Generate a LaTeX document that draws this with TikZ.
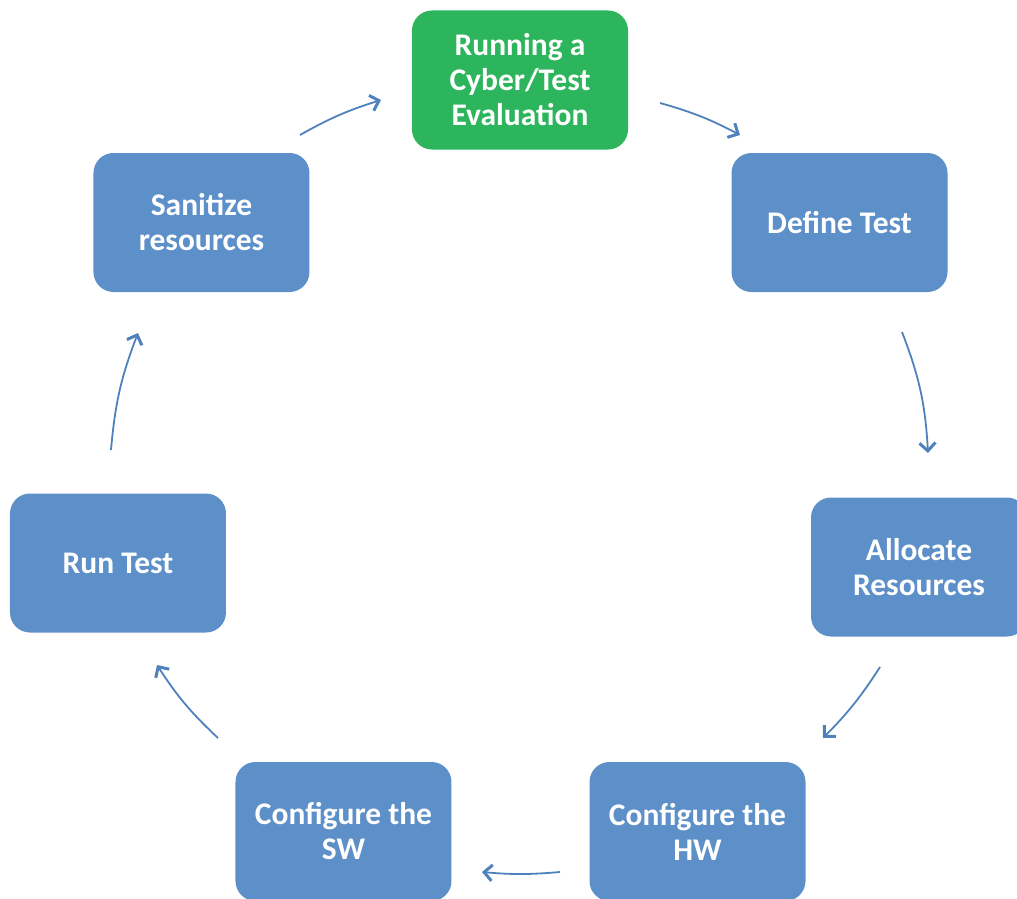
\documentclass[tikz,border=0pt]{standalone}
\usepackage{fontspec}
\setmainfont{Carlito}
\usepackage{xcolor}
\usetikzlibrary{arrows.meta}

\definecolor{stageblue}{RGB}{93,143,200}
\definecolor{stagegreen}{RGB}{44,181,92}
\definecolor{flowblue}{RGB}{79,129,189}

\tikzset{
  stage/.style={fill=stageblue, rounded corners=20pt, minimum width=216pt, minimum height=139pt,
    inner sep=0pt, text=white, align=center, font=\fontsize{31.5}{35}\selectfont\bfseries},
  startstage/.style={stage, fill=stagegreen},
  flow/.style={draw=flowblue, line width=1.8pt,
    -{Straight Barb[length=8pt,width=16pt,line width=3pt]}}
}

\begin{document}
\begin{tikzpicture}[x=1pt, y=1pt]

% page frame (origin = centre of the cycle)
\useasboundingbox (-520,-423) rectangle (497,475);

% Stages of the cycle
\node[startstage] (running) at (0,395) {Running a\\Cyber/Test\\Evaluation};
\node[stage] (define) at (319.5,252.5) {Define Test};
\node[stage] (allocate) at (399,-92) {Allocate\\Resources};
\node[stage] (confhw) at (177.5,-356.5) {Configure the\\HW};
\node[stage] (confsw) at (-176.5,-356.5) {Configure the\\SW};
\node[stage] (runtest) at (-402,-88) {Run Test};
\node[stage] (sanitize) at (-318.5,252.5) {Sanitize\\resources};

% Arrow end points between the stages
\coordinate (sanS) at (-220,340);  \coordinate (sanE) at (-139,375);
\coordinate (runS) at (140,372);   \coordinate (runE) at (220,340);
\coordinate (defS) at (382,143);   \coordinate (defE) at (408,22);
\coordinate (allS) at (360,-192);  \coordinate (allE) at (303,-263);
\coordinate (hwS) at (40,-397);    \coordinate (hwE) at (-38,-397);
\coordinate (swS) at (-302,-263);  \coordinate (swE) at (-363,-190);
\coordinate (rtS) at (-409,25);    \coordinate (rtE) at (-382,142);

% Flow arrows (clockwise)
\draw[flow] (sanS) to[bend left=6] (sanE);
\draw[flow] (runS) to[bend left=6] (runE);
\draw[flow] (defS) to[bend left=9] (defE);
\draw[flow] (allS) to[bend left=6] (allE);
\draw[flow] (hwS) to[bend left=5] (hwE);
\draw[flow] (swS) to[bend left=7] (swE);
\draw[flow] (rtS) to[bend left=8] (rtE);

\end{tikzpicture}
\end{document}
